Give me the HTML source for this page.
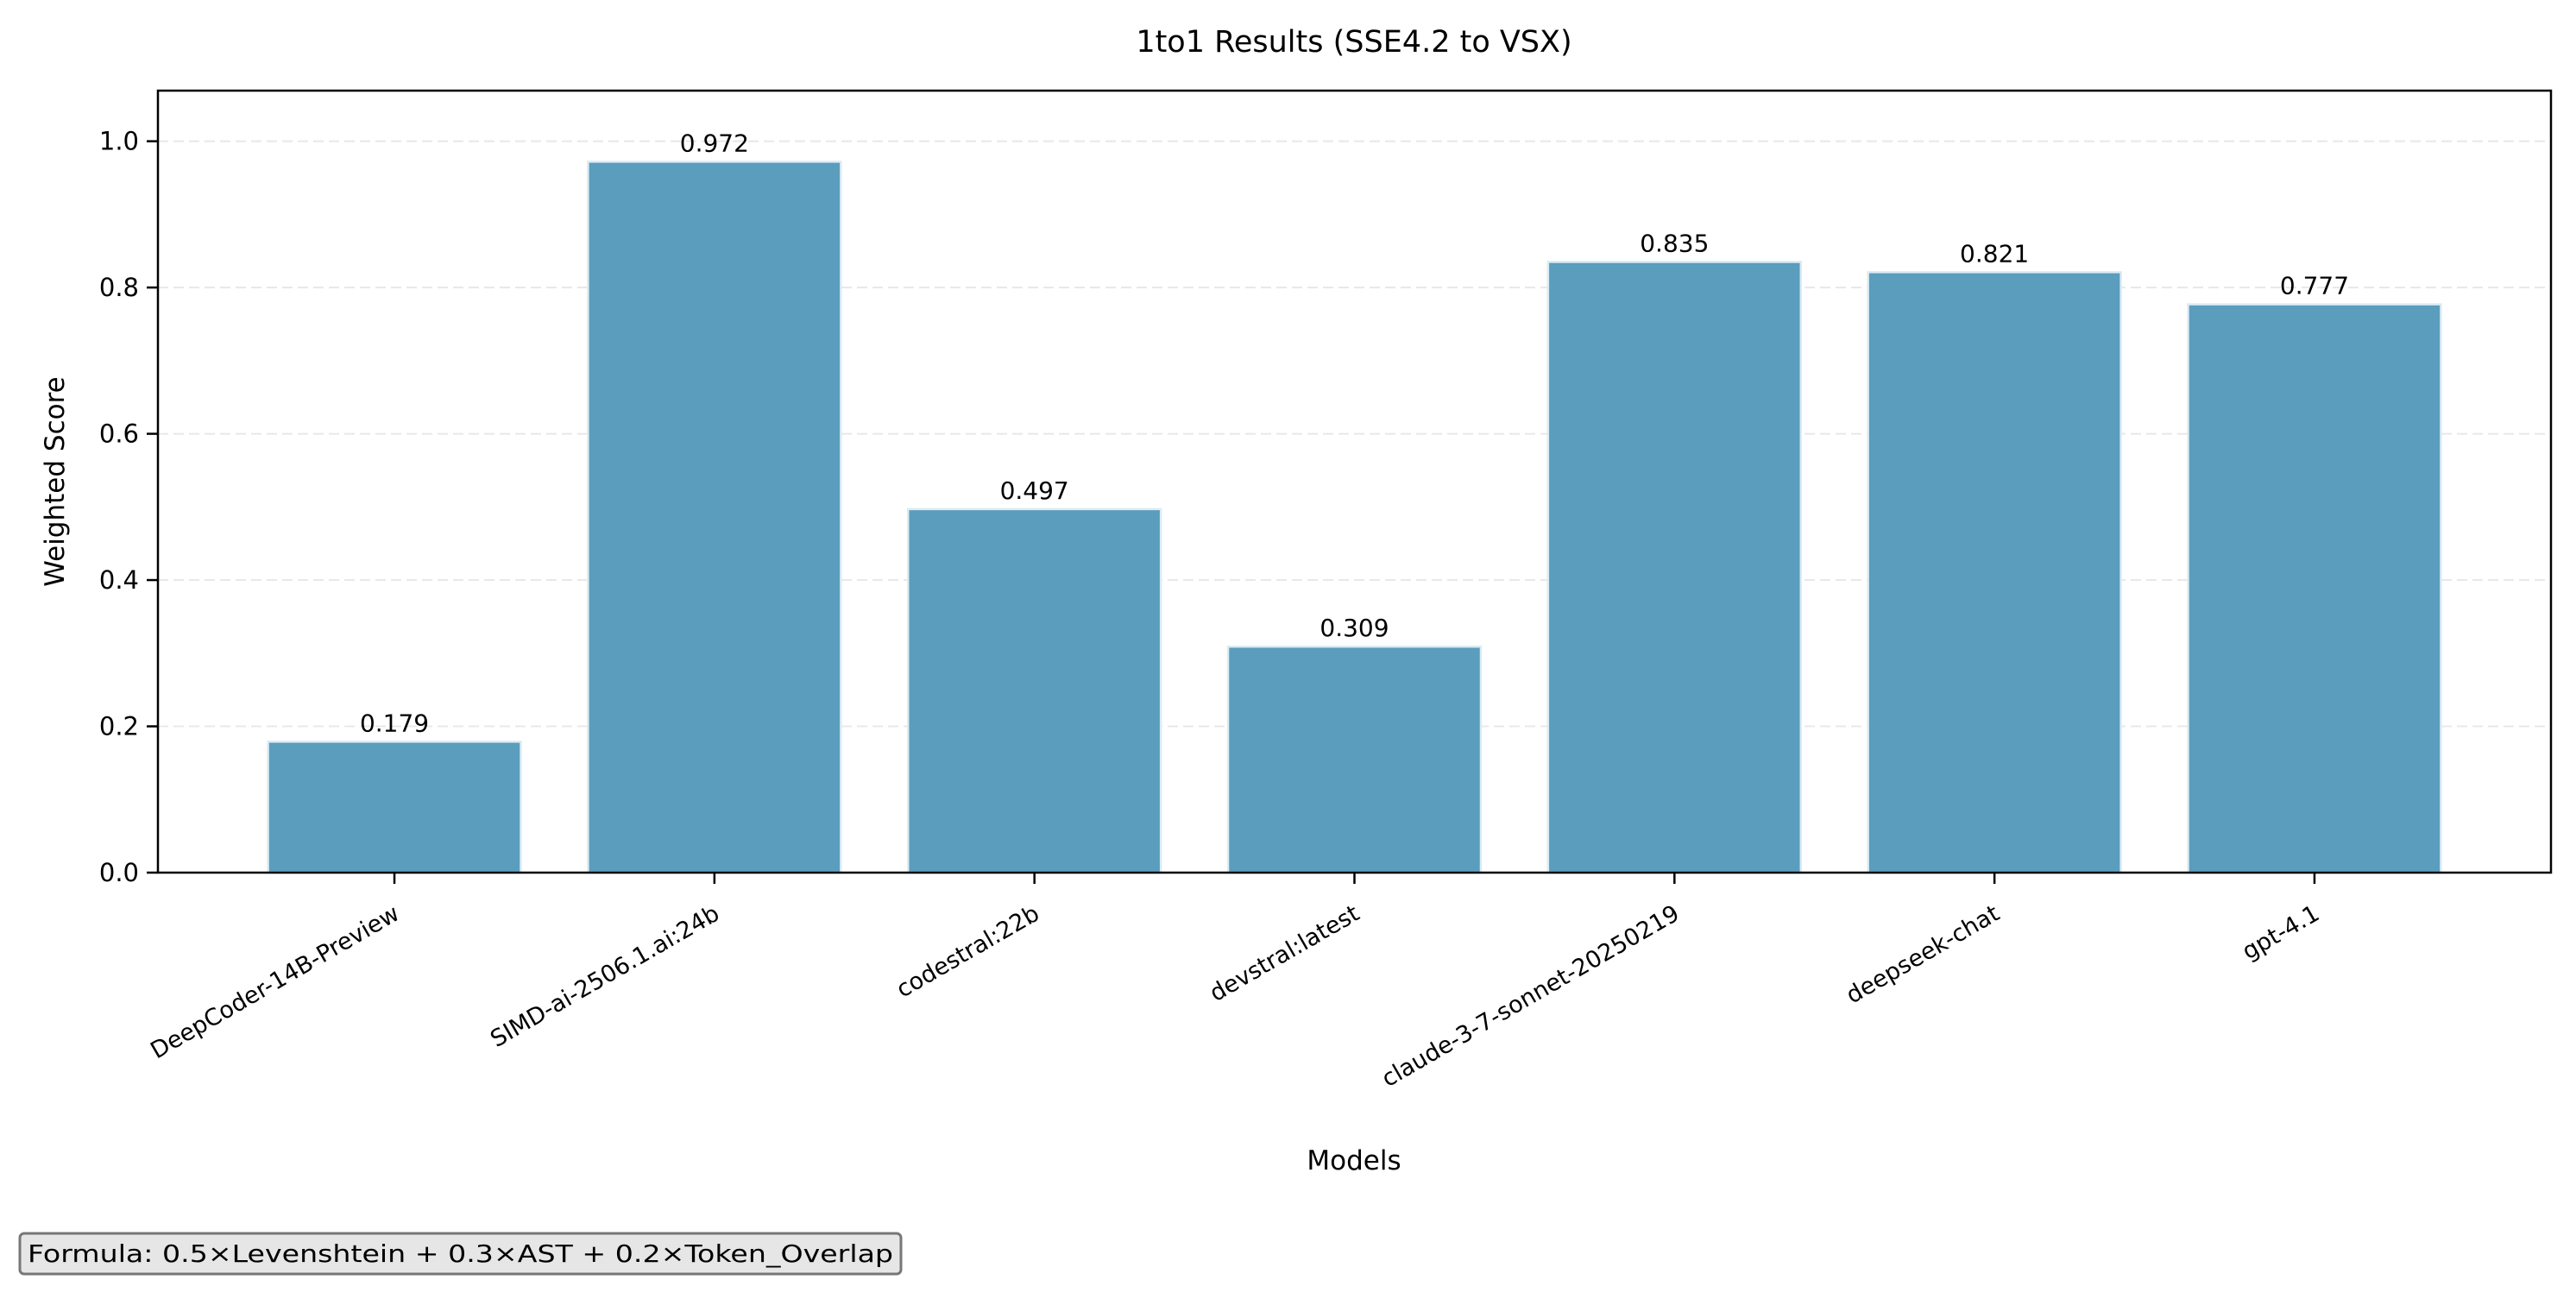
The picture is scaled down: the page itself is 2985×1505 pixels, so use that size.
<!DOCTYPE html>
<html><head><meta charset="utf-8"><style>
html,body{margin:0;padding:0;background:#fff;}
svg text{font-family:"DejaVu Sans","Liberation Sans",sans-serif;fill:#000;}
</style></head><body>
<svg id="chart" width="2985" height="1500" viewBox="0 0 2985 1500" xmlns="http://www.w3.org/2000/svg">
<rect x="0" y="0" width="2985" height="1500" fill="#fff"/>
<text x="1569" y="60" font-size="35" text-anchor="middle">1to1 Results (SSE4.2 to VSX)</text>
<g id="grid"></g>
<g id="bars"></g>
<g id="yticks"></g>
<g id="xticks"></g>
<rect x="183" y="105" width="2773" height="906" fill="none" stroke="#000" stroke-width="2.5"/>
<text transform="translate(74,558) rotate(-90)" font-size="31" text-anchor="middle">Weighted Score</text>
<text x="1569" y="1355" font-size="31" text-anchor="middle">Models</text>
<g>
<rect x="23" y="1429" width="1021" height="47" rx="5" fill="#e6e6e6" stroke="#777" stroke-width="3"/>
<text x="32" y="1462" font-size="28" textLength="1003" lengthAdjust="spacingAndGlyphs">Formula: 0.5×Levenshtein + 0.3×AST + 0.2×Token_Overlap</text>
</g>
</svg>
<script>
const categories = ["DeepCoder-14B-Preview","SIMD-ai-2506.1.ai:24b","codestral:22b","devstral:latest","claude-3-7-sonnet-20250219","deepseek-chat","gpt-4.1"];
const scores = [0.179,0.972,0.497,0.309,0.835,0.821,0.777];
const valueLabels = ["0.179","0.972","0.497","0.309","0.835","0.821","0.777"];
const yTicks = [0,0.2,0.4,0.6,0.8,1.0];
const yTickLabels = ["0.0","0.2","0.4","0.6","0.8","1.0"];

const NS = "http://www.w3.org/2000/svg";
const L = 183, R = 2956, T = 105, B = 1011;
const yMax = Math.max(...scores) * 1.1;
const n = categories.length;
const pitch = (R - L) / (n - 1 + 2 * 0.739);
function xScale(i){ return L + pitch * (0.739 + i); }
function yScale(v){ return B - (v / yMax) * (B - T); }
function mk(tag, attrs, parent){ const e = document.createElementNS(NS, tag); for (const k in attrs) e.setAttribute(k, attrs[k]); parent.appendChild(e); return e; }

const grid = document.getElementById('grid');
const yt = document.getElementById('yticks');
yTicks.forEach((v, i) => {
  const y = yScale(v);
  const g = mk('line', {x1: L, x2: R, y1: y, y2: y, stroke: '#e8e8e8', 'stroke-width': 2, 'stroke-dasharray': '12,6'}, grid);
  
  
  const tk = mk('line', {x1: L - 13, x2: L, y1: y, y2: y, stroke: '#000', 'stroke-width': 2.5}, yt);
  
  
  const t = mk('text', {x: L - 22, y: y + 10, 'font-size': 29, 'text-anchor': 'end'}, yt);
  
  
  t.textContent = yTickLabels[i];
});

const bars = document.getElementById('bars');
const xt = document.getElementById('xticks');
const bw = pitch * 0.79;
categories.forEach((c, i) => {
  const cx = xScale(i), y = yScale(scores[i]);
  const r = mk('rect', {x: cx - bw / 2, y: y, width: bw, height: B - y, fill: '#5a9dbd', stroke: '#dcebf3', 'stroke-width': 2.5}, bars);
  
  
  const vl = mk('text', {x: cx, y: y - 12, 'font-size': 28, 'text-anchor': 'middle'}, bars);
  
  
  vl.textContent = valueLabels[i];
  const tk = mk('line', {x1: cx, x2: cx, y1: B, y2: B + 13, stroke: '#000', 'stroke-width': 2.5}, xt);
  
  
  const tl = mk('text', {x: 0, y: 0, 'font-size': 27, 'text-anchor': 'end', 'dominant-baseline': 'hanging', transform: 'translate(' + (cx - 2) + ',' + (B + 36) + ') rotate(-30)'}, xt);
  
  
  tl.textContent = c;
});
</script>
</body></html>
